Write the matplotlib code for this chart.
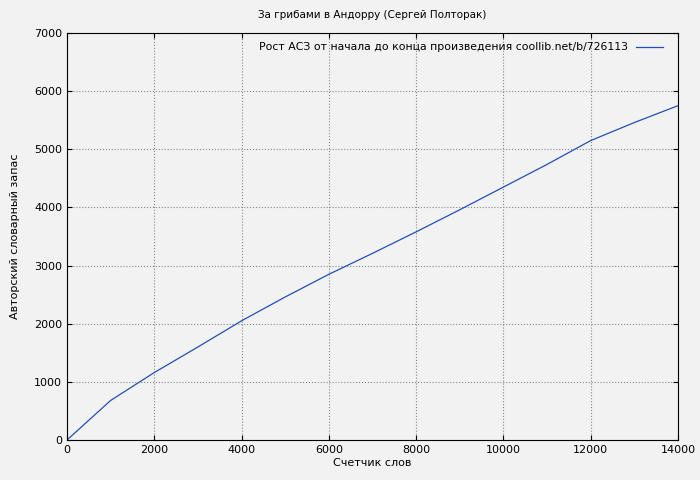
import matplotlib
matplotlib.use("Agg")
import matplotlib.pyplot as plt

words = [0, 1000, 2000, 3000, 4000, 5000, 6000, 7000, 8000, 9000, 10000, 11000, 12000, 13000, 14000]
vocab = [0, 680, 1160, 1600, 2050, 2460, 2850, 3210, 3580, 3960, 4350, 4740, 5150, 5460, 5750]

fig = plt.figure(figsize=(7, 4.8), dpi=100, facecolor="#f2f2f2")
ax = fig.add_axes([67/700, 40/480, 611/700, 407/480])
ax.set_facecolor("#f2f2f2")
ax.plot(words, vocab, color="#1f4fbf", lw=0.9,
        label="Рост АСЗ от начала до конца произведения coollib.net/b/726113")
ax.set_xlim(0, 14000)
ax.set_ylim(0, 7000)
ax.set_xticks(range(0, 14001, 2000))
ax.set_yticks(range(0, 7001, 1000))
ax.grid(True, color="#888888", linestyle=":", lw=0.8)
ax.tick_params(labelsize=8, direction="in", top=True, right=True)
ax.set_xlabel("Счетчик слов", fontsize=8, labelpad=2)
ax.set_ylabel("Авторский словарный запас", fontsize=8, labelpad=10)
ax.set_title("За грибами в Андорру (Сергей Полторак)", fontsize=7.5, pad=11)
leg = ax.legend(loc="upper right", fontsize=7.8, frameon=False, markerfirst=False,
                handlelength=2.5, borderaxespad=0.1, bbox_to_anchor=(0.985, 0.99))
fig.savefig("out.png", dpi=100, facecolor=fig.get_facecolor())
